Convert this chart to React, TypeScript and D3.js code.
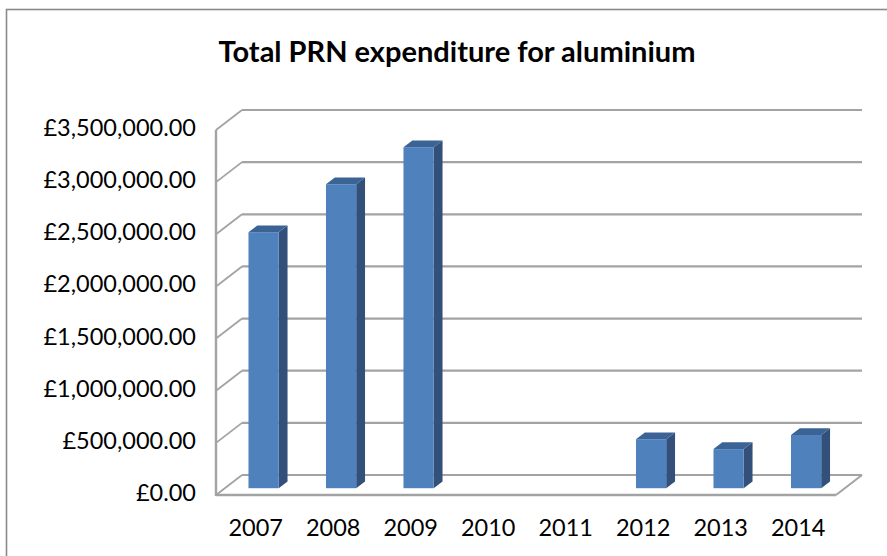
import React from "react";
import * as d3 from "d3";

const years = ["2007", "2008", "2009", "2010", "2011", "2012", "2013", "2014"];
const expenditure = [2455000, 2915000, 3270000, 0, 0, 470000, 375000, 510000];
const yTicks = [0, 500000, 1000000, 1500000, 2000000, 2500000, 3000000, 3500000];
const title = "Total PRN expenditure for aluminium";

const W = 887;
const H = 556;
const FONT = "Lato, 'Open Sans', sans-serif";

export default function App() {
  const left = 216;
  const right = 836;
  const bottom = 495;
  const top = 130;
  const depthX = 26;
  const depthY = -20;
  const f0 = 0.34;
  const f1 = 0.68;

  const x = d3.scaleBand<string>().domain(years).range([left, right]).paddingInner(0).paddingOuter(0);
  const y = d3.scaleLinear().domain([0, 3500000]).range([bottom, top]);
  const fmt = d3.format(",.2f");
  const barW = x.bandwidth() * 0.39;

  const grid = "#A3A3A3";

  return (
    <svg
      width={W}
      height={H}
      style={{ position: "absolute", left: 0, top: 0, background: "#fff" }}
      fontFamily={FONT}
    >
      <rect x={6.5} y={9.5} width={W} height={H} fill="#fff" stroke="#8a8a8a" strokeWidth={1.6} />
      <text x={457} y={50} textAnchor="middle" dominantBaseline="central" fontWeight="bold" fontSize={29} fill="#000">
        {title}
      </text>

      {/* back wall gridlines and left wall diagonals */}
      {yTicks.map((t) => (
        <g key={t}>
          <line x1={left + depthX} x2={right + depthX} y1={y(t) + depthY} y2={y(t) + depthY} stroke={grid} strokeWidth={2.2} />
          <line x1={left} x2={left + depthX} y1={y(t)} y2={y(t) + depthY} stroke={grid} strokeWidth={1.8} />
        </g>
      ))}
      {/* left axis */}
      <line x1={left} x2={left} y1={y(0) + 1} y2={y(3500000)} stroke={grid} strokeWidth={2.4} />
      {/* floor front edge and right edge */}
      <line x1={left} x2={right} y1={y(0)} y2={y(0)} stroke={grid} strokeWidth={2.6} />
      <line x1={right} x2={right + depthX} y1={y(0)} y2={y(0) + depthY} stroke={grid} strokeWidth={2} />

      {/* bars */}
      {years.map((yr, i) => {
        const v = expenditure[i];
        if (!v) return null;
        const bx = (x(yr) as number) + (x.bandwidth() - barW) / 2 + depthX * f0;
        const by0 = y(0) + depthY * f0;
        const byTop = y(v) + depthY * f0;
        const dx = depthX * (f1 - f0);
        const dy = depthY * (f1 - f0);
        const side = `M${bx + barW},${byTop} L${bx + barW + dx},${byTop + dy} L${bx + barW + dx},${by0 + dy} L${bx + barW},${by0} Z`;
        const topFace = `M${bx},${byTop} L${bx + dx},${byTop + dy} L${bx + barW + dx},${byTop + dy} L${bx + barW},${byTop} Z`;
        return (
          <g key={yr}>
            <path d={side} fill="#33507A" />
            <path d={topFace} fill="#3C6396" />
            <rect x={bx} y={byTop} width={barW} height={by0 - byTop} fill="#4F81BD" />
          </g>
        );
      })}

      {/* y labels */}
      {yTicks.map((t) => (
        <text key={t} x={196} y={y(t) - 3} textAnchor="end" dominantBaseline="central" fontSize={23.5} fill="#000">
          {"£" + fmt(t)}
        </text>
      ))}

      {/* x labels */}
      {years.map((yr) => (
        <text key={yr} x={(x(yr) as number) + x.bandwidth() / 2 + 1} y={527} textAnchor="middle" dominantBaseline="central" fontSize={23.5} fill="#000">
          {yr}
        </text>
      ))}
    </svg>
  );
}
